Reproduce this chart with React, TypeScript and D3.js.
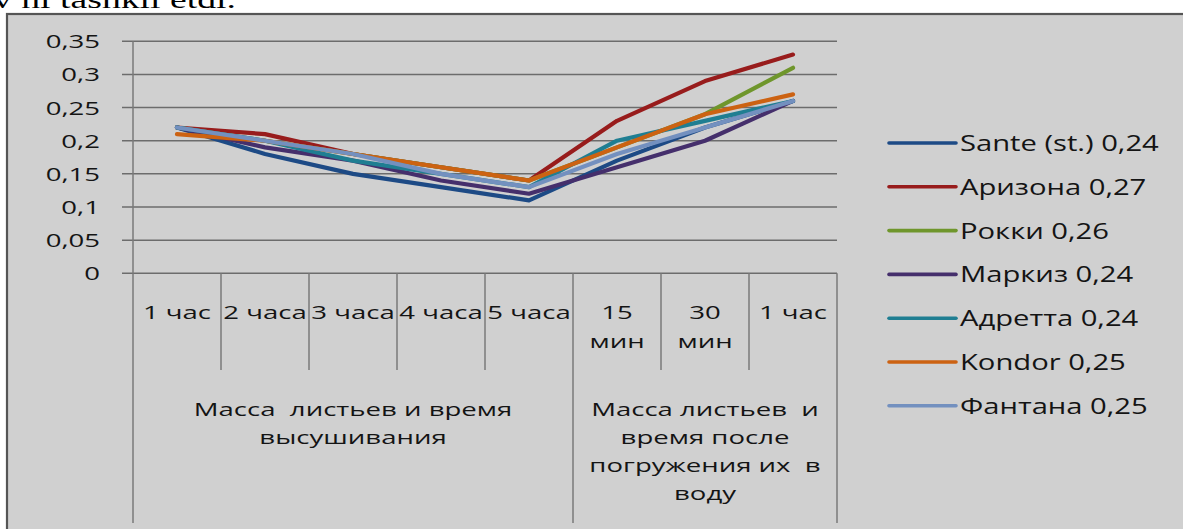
import React from "react";
import * as d3 from "d3";

const categories = ["1 час", "2 часа", "3 часа", "4 часа", "5 часа", "15\nмин", "30\nмин", "1 час"];
const groups = [
  { label: ["Масса  листьев и время", "высушивания"], from: 0, to: 5 },
  { label: ["Масса листьев  и", "время после", "погружения их  в", "воду"], from: 5, to: 8 },
];
const yTicks = [0, 0.05, 0.1, 0.15, 0.2, 0.25, 0.3, 0.35];
const seriesNames = ["Sante (st.) 0,24", "Аризона 0,27", "Рокки 0,26", "Маркиз 0,24", "Адретта 0,24", "Kondor 0,25", "Фантана 0,25"];
const seriesColors = ["#1d4a85", "#981c1c", "#6f962c", "#452f6c", "#1f7e92", "#cc6212", "#7390bf"];
const sante = [0.22, 0.18, 0.15, 0.13, 0.11, 0.17, 0.22, 0.26];
const arizona = [0.22, 0.21, 0.18, 0.16, 0.14, 0.23, 0.29, 0.33];
const rokki = [0.22, 0.2, 0.18, 0.16, 0.14, 0.19, 0.24, 0.31];
const markiz = [0.22, 0.19, 0.17, 0.14, 0.12, 0.16, 0.2, 0.26];
const adretta = [0.22, 0.2, 0.17, 0.15, 0.13, 0.2, 0.23, 0.26];
const kondor = [0.21, 0.2, 0.18, 0.16, 0.14, 0.19, 0.24, 0.27];
const fantana = [0.22, 0.2, 0.18, 0.15, 0.13, 0.18, 0.22, 0.26];
const seriesValues = [sante, arizona, rokki, markiz, adretta, kondor, fantana];

const W = 1183;
const H = 529;
const FONT = "'Open Sans', 'Noto Sans', sans-serif";
const SX = 1.45;

function SText({ x, y, anchor = "start", size = 19, sx = SX, children, family = FONT, fill = "#141414" }: any) {
  return (
    <text
      transform={`translate(${x},${y}) scale(${sx},1)`}
      textAnchor={anchor}
      fontFamily={family}
      fontSize={size}
      fill={fill}
      style={{ whiteSpace: "pre" }}
    >
      {children}
    </text>
  );
}

export default function App() {
  const x = d3.scaleBand<number>().domain(d3.range(categories.length)).range([133, 837]).paddingInner(0).paddingOuter(0);
  const y = d3.scaleLinear().domain([0, 0.35]).range([273.3, 41.3]);
  const cx = (i: number) => (x(i) as number) + x.bandwidth() / 2;
  const line = d3
    .line<number>()
    .x((_, i) => cx(i))
    .y((d) => y(d));
  const y0 = y(0);
  const gridColor = "#6c6c6c";

  return (
    <svg width={W} height={H} style={{ position: "absolute", left: 0, top: 0, display: "block" }}>
      <rect x={0} y={0} width={W} height={H} fill="#ffffff" />
      <SText x={-7} y={7.5} size={26} sx={1.45} family="'Liberation Serif', 'DejaVu Serif', serif" fill="#000">
        v ni tashkil etdi.
      </SText>
      <rect x={7} y={14} width={W} height={H} fill="#d0d0d0" stroke="#555555" strokeWidth={2.2} />

      {/* gridlines & y ticks */}
      {yTicks.map((t) => (
        <g key={t}>
          <line x1={122} x2={837} y1={y(t)} y2={y(t)} stroke={gridColor} strokeWidth={1.5} />
          <SText x={100} y={y(t) + 7} anchor="end" size={19}>
            {String(t).replace(".", ",")}
          </SText>
        </g>
      ))}
      <line x1={133} x2={133} y1={y(0.35)} y2={y0} stroke="#7a7a7a" strokeWidth={1.5} />

      {/* category ticks */}
      {categories.map((_, i) => {
        const bx = x(i) as number;
        const isGroupEdge = groups.some((g) => g.from === i);
        return (
          <line key={i} x1={bx} x2={bx} y1={y0} y2={isGroupEdge ? 523 : 370} stroke="#7a7a7a" strokeWidth={1.5} />
        );
      })}
      <line x1={837} x2={837} y1={y0} y2={523} stroke="#7a7a7a" strokeWidth={1.5} />

      {/* category labels */}
      {categories.map((c, i) =>
        c.split("\n").map((part, j) => (
          <SText key={i + "-" + j} x={cx(i)} y={319 + j * 29} anchor="middle" size={19}>
            {part}
          </SText>
        ))
      )}

      {/* group labels */}
      {groups.map((g, gi) => {
        const gx = ((x(g.from) as number) + (g.to < categories.length ? (x(g.to) as number) : 837)) / 2;
        return g.label.map((l, j) => (
          <SText key={gi + "-" + j} x={gx} y={416 + j * 28} anchor="middle" size={19}>
            {l}
          </SText>
        ));
      })}

      {/* series lines */}
      {seriesValues.map((vals, si) => (
        <path
          key={si}
          d={line(vals) || ""}
          fill="none"
          stroke={seriesColors[si]}
          strokeWidth={4.2}
          strokeLinejoin="round"
          strokeLinecap="round"
        />
      ))}

      {/* legend */}
      {seriesNames.map((n, i) => {
        const ly = 143 + i * 43.8;
        return (
          <g key={n}>
            <line x1={889} x2={956} y1={ly} y2={ly} stroke={seriesColors[i]} strokeWidth={3.6} strokeLinecap="round" />
            <SText x={960} y={ly + 8} size={21} sx={1.39}>
              {n}
            </SText>
          </g>
        );
      })}
    </svg>
  );
}
